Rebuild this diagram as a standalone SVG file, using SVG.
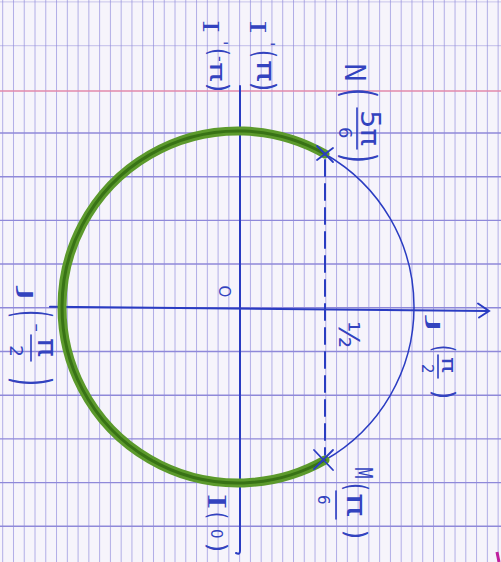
<svg xmlns="http://www.w3.org/2000/svg" width="501" height="562" viewBox="0 0 501 562">
<defs>
<style>
.hl{stroke:#8f89d9;stroke-width:1.4}
.ink{stroke:#2a3cc2;fill:none;stroke-linecap:round}
.t{fill:#3343bf;font-family:"DejaVu Sans",sans-serif}
.ts{fill:#3343bf;font-family:"DejaVu Serif",serif}
</style>
<pattern id="vgrid" x="2.2" y="0" width="10.77" height="562" patternUnits="userSpaceOnUse">
<line x1="0.5" y1="0" x2="0.5" y2="562" stroke="#b0ace6" stroke-width="1"/>
</pattern>
</defs>

<g id="paper">
<rect width="501" height="562" fill="#f6f4fb"/>
<rect width="501" height="562" fill="url(#vgrid)"/>
<line class="hl" x1="0" y1="1.9" x2="501" y2="1.9" opacity="0.35"/>
<line class="hl" x1="0" y1="45.6" x2="501" y2="45.6" opacity="0.4"/>
<line x1="0" y1="91" x2="501" y2="91" stroke="#e28aab" stroke-width="1.5"/>
<line class="hl" x1="0" y1="133" x2="501" y2="133"/>
<line class="hl" x1="0" y1="176.7" x2="501" y2="176.7"/>
<line class="hl" x1="0" y1="220.4" x2="501" y2="220.4"/>
<line class="hl" x1="0" y1="264" x2="501" y2="264"/>
<line class="hl" x1="0" y1="307.8" x2="501" y2="307.8"/>
<line class="hl" x1="0" y1="351.5" x2="501" y2="351.5"/>
<line class="hl" x1="0" y1="395.2" x2="501" y2="395.2"/>
<line class="hl" x1="0" y1="438.9" x2="501" y2="438.9"/>
<line class="hl" x1="0" y1="482.6" x2="501" y2="482.6"/>
<line class="hl" x1="0" y1="526.3" x2="501" y2="526.3"/>
<path d="M497,552 L499,562" stroke="#c0209e" stroke-width="3" fill="none"/>
</g>

<g id="connectors">
<line class="ink" x1="50" y1="306.7" x2="488" y2="311" stroke-width="2"/>
<path class="ink" d="M478,303.5 L489,311 L479,317.5" stroke-width="2"/>
<path class="ink" d="M240,86 L240,551 Q240,555 236,553" stroke-width="2"/>
<line class="ink" x1="325" y1="160" x2="325" y2="455" stroke-width="2" stroke-dasharray="16 8"/>
<path class="ink" d="M325,154 A176,176 0 0 1 325,460" stroke-width="1.5"/>
</g>

<g id="arc-S">
<path d="M325,154 A176,176 0 1 0 325,460" fill="none" stroke="#5c9a2c" stroke-width="9" stroke-linecap="round"/>
<path d="M325,154 A176,176 0 1 0 325,460" fill="none" stroke="#2f6812" stroke-width="3" stroke-linecap="round" opacity="0.8"/>
</g>

<g id="point-N">
<path class="ink" d="M317,146 L333,162 M317,160 L333,148" stroke-width="1.8"/>
</g>
<g id="point-M">
<path class="ink" d="M314,450 L333,470 M314,469 L333,450" stroke-width="1.8"/>
</g>

<g id="label-I1" transform="translate(217,17) rotate(90)">
<text class="ts" x="3" y="14" font-size="22" textLength="13" lengthAdjust="spacingAndGlyphs">I</text>
<text class="t" x="24" y="1.5" font-size="16">'</text>
<text class="t" x="31" y="6.6" font-size="26" textLength="8" lengthAdjust="spacingAndGlyphs">(</text>
<text class="t" x="39" y="2" font-size="16">-</text>
<text class="t" x="45" y="7" font-size="22" textLength="20" lengthAdjust="spacingAndGlyphs">π</text>
<text class="t" x="66" y="6.6" font-size="26" textLength="9" lengthAdjust="spacingAndGlyphs">)</text>
</g>

<g id="label-I2" transform="translate(262,17) rotate(90)">
<text class="ts" x="3" y="12" font-size="22" textLength="14" lengthAdjust="spacingAndGlyphs">I</text>
<text class="t" x="25" y="-0.5" font-size="16">'</text>
<text class="t" x="33" y="8" font-size="30" textLength="8" lengthAdjust="spacingAndGlyphs">(</text>
<text class="t" x="43" y="5" font-size="24" textLength="22" lengthAdjust="spacingAndGlyphs">π</text>
<text class="t" x="65" y="8" font-size="30" textLength="9" lengthAdjust="spacingAndGlyphs">)</text>
</g>

<g id="label-I0" transform="translate(217,493) rotate(90)">
<text class="ts" x="0" y="9" font-size="24" textLength="17" lengthAdjust="spacingAndGlyphs">I</text>
<text class="t" x="19" y="8" font-size="24" textLength="7" lengthAdjust="spacingAndGlyphs">(</text>
<text class="t" x="36" y="6" font-size="15">0</text>
<text class="t" x="50" y="8" font-size="24" textLength="9" lengthAdjust="spacingAndGlyphs">)</text>
</g>

<g id="label-O" transform="translate(223.5,291.5) rotate(90)">
<text class="t" x="0" y="5" font-size="15" text-anchor="middle">O</text>
</g>

<g id="label-half" transform="translate(348,334.5) rotate(90)">
<text class="t" x="0" y="9" font-size="28" text-anchor="middle">½</text>
</g>

<g id="label-N" transform="translate(357,63) rotate(90)">
<text class="t" x="0" y="12" font-size="28" textLength="19" lengthAdjust="spacingAndGlyphs">N</text>
<text class="t" x="25" y="13" font-size="44" textLength="10" lengthAdjust="spacingAndGlyphs">(</text>
<text class="t" x="47" y="-4" font-size="26" textLength="36" lengthAdjust="spacingAndGlyphs">5π</text>
<line class="ink" x1="45" y1="0" x2="86" y2="0" stroke-width="1.6"/>
<text class="t" x="64" y="18" font-size="18">6</text>
<text class="t" x="90" y="13" font-size="44" textLength="10" lengthAdjust="spacingAndGlyphs">)</text>
</g>

<g id="label-M" transform="translate(338,467) rotate(90)">
<text class="t" x="0" y="-17" font-size="24" textLength="12" lengthAdjust="spacingAndGlyphs">M</text>
<text class="t" x="16" y="-8" font-size="30" textLength="8" lengthAdjust="spacingAndGlyphs">(</text>
<text class="t" x="26" y="-9" font-size="26" textLength="24" lengthAdjust="spacingAndGlyphs">π</text>
<line class="ink" x1="24" y1="2" x2="52" y2="2" stroke-width="1.6"/>
<text class="t" x="28" y="20" font-size="15">6</text>
<text class="t" x="63" y="-7.6" font-size="28" textLength="9" lengthAdjust="spacingAndGlyphs">)</text>
</g>

<g id="label-J1" transform="translate(438,318) rotate(90)">
<text class="t" x="0" y="10" font-size="15" textLength="15" lengthAdjust="spacingAndGlyphs">J</text>
<text class="t" x="27" y="4.4" font-size="28" textLength="7" lengthAdjust="spacingAndGlyphs">(</text>
<text class="t" x="39" y="-4" font-size="20" textLength="16" lengthAdjust="spacingAndGlyphs">π</text>
<line class="ink" x1="37" y1="0" x2="60" y2="0" stroke-width="1.6"/>
<text class="t" x="46" y="16" font-size="15">2</text>
<text class="t" x="72" y="4.4" font-size="28" textLength="9" lengthAdjust="spacingAndGlyphs">)</text>
</g>

<g id="label-J2" transform="translate(31,288) rotate(90)">
<text class="t" x="0" y="11" font-size="18" textLength="13" lengthAdjust="spacingAndGlyphs">J</text>
<text class="t" x="22" y="16.5" font-size="50" textLength="8" lengthAdjust="spacingAndGlyphs">(</text>
<text class="t" x="35" y="0.5" font-size="16" textLength="9" lengthAdjust="spacingAndGlyphs">−</text>
<text class="t" x="50" y="-7" font-size="26" textLength="19" lengthAdjust="spacingAndGlyphs">π</text>
<line class="ink" x1="47" y1="0" x2="73" y2="0" stroke-width="1.6"/>
<text class="t" x="57" y="21" font-size="18" textLength="12" lengthAdjust="spacingAndGlyphs">2</text>
<text class="t" x="89" y="16.5" font-size="50" textLength="9" lengthAdjust="spacingAndGlyphs">)</text>
</g>
</svg>
